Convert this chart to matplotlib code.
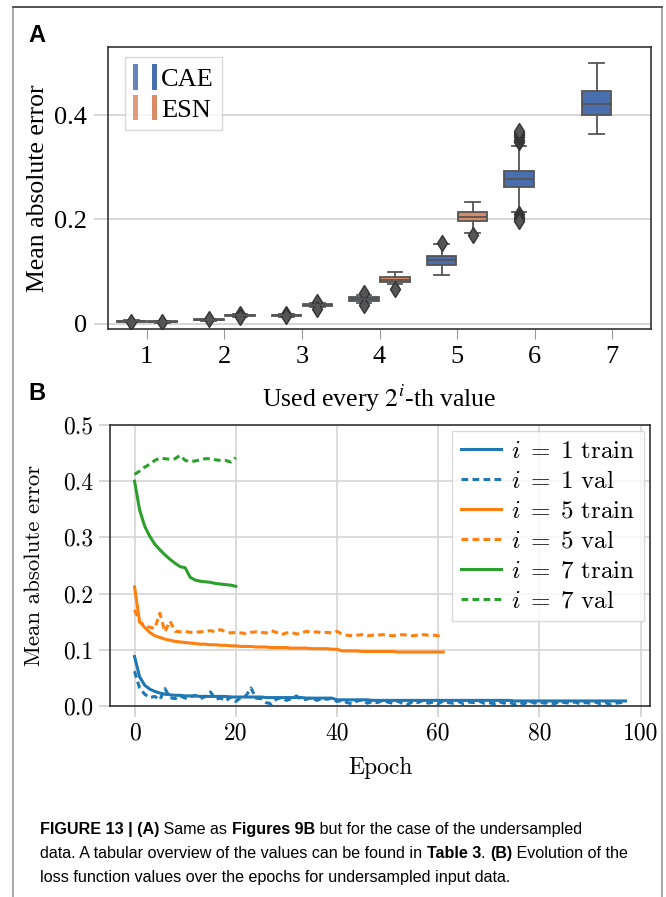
import matplotlib as mpl
import matplotlib.pyplot as plt
from matplotlib.patches import Patch, Rectangle
from matplotlib.legend_handler import HandlerTuple
from matplotlib.font_manager import FontProperties
import numpy as np

# ---------- panel A: box statistics per group (every 2^i-th value)
grupos = [1, 2, 3, 4, 5, 6, 7]

cae_whislo = [0.002, 0.005, 0.013, 0.040, 0.093, 0.213, 0.363]
cae_q1 = [0.003, 0.006, 0.015, 0.044, 0.112, 0.261, 0.401]
cae_med = [0.004, 0.007, 0.016, 0.047, 0.121, 0.278, 0.421]
cae_q3 = [0.005, 0.008, 0.017, 0.051, 0.130, 0.293, 0.446]
cae_whishi = [0.006, 0.009, 0.019, 0.055, 0.153, 0.341, 0.499]
cae_fliers = [[0.003], [0.008], [0.018, 0.014], [0.058, 0.035], [0.155],
              [0.348, 0.353, 0.358, 0.362, 0.366, 0.370, 0.210, 0.205, 0.200, 0.197], []]

esn_grupos = [1, 2, 3, 4, 5]
esn_whislo = [0.001, 0.013, 0.031, 0.075, 0.174]
esn_q1 = [0.002, 0.015, 0.034, 0.079, 0.197]
esn_med = [0.003, 0.016, 0.035, 0.084, 0.205]
esn_q3 = [0.004, 0.017, 0.037, 0.089, 0.213]
esn_whishi = [0.005, 0.019, 0.040, 0.0995, 0.233]
esn_fliers = [[0.003], [0.019, 0.013], [0.042, 0.028], [0.066], [0.169]]

# ---------- panel B: loss per epoch
i1_train = [0.088, 0.052, 0.037, 0.030, 0.026, 0.023, 0.021, 0.020, 0.019, 0.019,
            0.018, 0.018, 0.018, 0.017, 0.017, 0.017, 0.017, 0.017, 0.017, 0.016,
            0.016, 0.016, 0.016, 0.016, 0.016, 0.016, 0.015, 0.015, 0.015, 0.015,
            0.015, 0.015, 0.015, 0.015, 0.014, 0.014, 0.014, 0.014, 0.014, 0.014,
            0.011, 0.011, 0.011, 0.011, 0.011, 0.011, 0.011, 0.010, 0.010, 0.010,
            0.010, 0.010, 0.010, 0.010, 0.010, 0.010, 0.010, 0.010, 0.010, 0.010,
            0.010, 0.010, 0.010, 0.010, 0.010, 0.010, 0.010, 0.010, 0.010, 0.010,
            0.010, 0.010, 0.010, 0.010, 0.010, 0.009, 0.009, 0.009, 0.009, 0.009,
            0.009, 0.009, 0.009, 0.009, 0.009, 0.009, 0.009, 0.009, 0.009, 0.009,
            0.009, 0.009, 0.009, 0.009, 0.009, 0.009, 0.009, 0.009]
i1_val = [0.062, 0.032, 0.021, 0.015, 0.017, 0.011, 0.031, 0.015, 0.013, 0.018,
          0.014, 0.016, 0.019, 0.013, 0.017, 0.025, 0.012, 0.014, 0.009, 0.016,
          0.008, 0.015, 0.018, 0.032, 0.014, 0.013, 0.006, 0.004, 0.012, 0.015,
          0.010, 0.013, 0.018, 0.011, 0.012, 0.015, 0.010, 0.013, 0.012, 0.014,
          0.008, 0.010, 0.006, 0.004, 0.009, 0.011, 0.005, 0.008, 0.006, 0.010,
          0.007, 0.005, 0.009, 0.004, 0.003, 0.008, 0.006, 0.010, 0.005, 0.007,
          0.004, 0.009, 0.006, 0.005, 0.008, 0.004, 0.007, 0.006, 0.009, 0.005,
          0.006, 0.004, 0.008, 0.005, 0.007, 0.003, 0.006, 0.004, 0.009, 0.005,
          0.007, 0.005, 0.006, 0.004, 0.008, 0.006, 0.005, 0.007, 0.004, 0.006,
          0.005, 0.007, 0.004, 0.006, 0.003, 0.005, 0.006, 0.007]
i5_train = [0.212, 0.150, 0.140, 0.131, 0.125, 0.122, 0.119, 0.117, 0.115, 0.114,
            0.113, 0.112, 0.111, 0.110, 0.110, 0.109, 0.109, 0.108, 0.108, 0.107,
            0.107, 0.106, 0.106, 0.106, 0.105, 0.105, 0.105, 0.104, 0.104, 0.104,
            0.104, 0.103, 0.103, 0.103, 0.103, 0.102, 0.102, 0.102, 0.102, 0.101,
            0.101, 0.098, 0.098, 0.098, 0.098, 0.097, 0.097, 0.097, 0.097, 0.097,
            0.097, 0.097, 0.096, 0.096, 0.096, 0.096, 0.096, 0.096, 0.096, 0.096,
            0.096, 0.096]
i5_val = [0.171, 0.150, 0.143, 0.140, 0.138, 0.165, 0.132, 0.151, 0.133, 0.132,
          0.133, 0.131, 0.131, 0.132, 0.133, 0.134, 0.132, 0.136, 0.132, 0.130,
          0.131, 0.130, 0.129, 0.131, 0.132, 0.131, 0.130, 0.134, 0.131, 0.127,
          0.130, 0.131, 0.128, 0.130, 0.133, 0.131, 0.132, 0.130, 0.131, 0.130,
          0.133, 0.128, 0.126, 0.125, 0.126, 0.127, 0.125, 0.126, 0.126, 0.127,
          0.126, 0.125, 0.126, 0.127, 0.126, 0.125, 0.126, 0.127, 0.126, 0.126,
          0.125, 0.127]
i7_train = [0.400, 0.349, 0.320, 0.302, 0.288, 0.278, 0.269, 0.261, 0.254, 0.248,
            0.246, 0.229, 0.224, 0.222, 0.221, 0.220, 0.218, 0.217, 0.216, 0.215,
            0.213]
i7_val = [0.412, 0.418, 0.425, 0.430, 0.437, 0.441, 0.440, 0.439, 0.440, 0.446,
          0.437, 0.435, 0.436, 0.438, 0.440, 0.440, 0.438, 0.437, 0.437, 0.434,
          0.442]

col_cae = '#4a6fae'
col_esn = '#d98a66'
gris = '#555555'
serif_a = 'Liberation Serif'
cm = 'cmr10'

fig = plt.figure(figsize=(6.66, 8.97), dpi=100)

# marco exterior de la figura
fig.patches.append(Rectangle((13 / 666, -0.01), 649 / 666, 1 - 7 / 897 + 0.01,
                             transform=fig.transFigure, fill=False,
                             edgecolor='#9a9a9a', lw=1.2))
fig.lines.append(mpl.lines.Line2D([13 / 666, 662 / 666], [1 - 7 / 897] * 2,
                                  transform=fig.transFigure, color='#444444', lw=1.2))

# ================= panel A
axA = fig.add_axes([108 / 666, 1 - 329 / 897, 543 / 666, 282 / 897])


def stats(wl, q1, md, q3, wh, fl):
    return [dict(whislo=a, q1=b, med=c, q3=d, whishi=e, fliers=f)
            for a, b, c, d, e, f in zip(wl, q1, md, q3, wh, fl)]


bx_kw = dict(widths=0.38, capwidths=0.19, patch_artist=True, manage_ticks=False,
             boxprops=dict(edgecolor=gris, lw=1.3),
             medianprops=dict(color=gris, lw=1.3),
             whiskerprops=dict(color=gris, lw=1.3),
             capprops=dict(color=gris, lw=1.3),
             flierprops=dict(marker='d', markerfacecolor=gris, markeredgecolor='#333333',
                             markersize=8))
b1 = axA.bxp(stats(cae_whislo, cae_q1, cae_med, cae_q3, cae_whishi, cae_fliers),
             positions=np.array(grupos) - 0.2, **bx_kw)
b2 = axA.bxp(stats(esn_whislo, esn_q1, esn_med, esn_q3, esn_whishi, esn_fliers),
             positions=np.array(esn_grupos) + 0.2, **bx_kw)
for p in b1['boxes']:
    p.set_facecolor(col_cae)
for p in b2['boxes']:
    p.set_facecolor(col_esn)

axA.set_xlim(0.5, 7.5)
axA.set_ylim(-0.0105, 0.5305)
axA.set_xticks(grupos)
axA.set_xticklabels([str(g) for g in grupos], fontfamily=serif_a, fontsize=19)
axA.set_yticks([0, 0.2, 0.4])
axA.set_yticklabels(['0', '0.2', '0.4'], fontfamily=serif_a, fontsize=19)
axA.yaxis.grid(True, color='#d0d0d0', lw=1.2)
axA.set_axisbelow(True)
axA.tick_params(axis='x', length=7, color='#999999', pad=5)
axA.tick_params(axis='y', length=10, color='#d0d0d0', width=1.2, pad=5)
for s in axA.spines.values():
    s.set_color('#333333')
    s.set_linewidth(1.2)
axA.set_ylabel('Mean absolute error', fontfamily=serif_a, fontsize=18.5)
axA.yaxis.set_label_coords(-0.108, 0.5)
axA.set_xlabel('Used every $2^i$-th value', fontfamily=serif_a, fontsize=18.5,
               math_fontfamily='stix')
axA.xaxis.set_label_coords(0.5, -0.19)

hA = [(Patch(facecolor=col_cae, alpha=0.85), Patch(facecolor=col_cae)),
      (Patch(facecolor=col_esn, alpha=0.85), Patch(facecolor=col_esn))]
legA = axA.legend(hA, ['CAE', 'ESN'], loc='upper left', bbox_to_anchor=(0.022, 0.985),
                  handler_map={tuple: HandlerTuple(ndivide=None, pad=0.5)},
                  prop=FontProperties(family=serif_a, size=19), handlelength=0.9,
                  handleheight=1.1, handletextpad=0.15, borderpad=0.3,
                  labelspacing=0.15, fancybox=False, borderaxespad=0.2)
legA.get_frame().set_edgecolor('#d0d0d0')
legA.get_frame().set_linewidth(1.0)

fig.text(37 / 666, 1 - 35 / 897, 'A', fontfamily='Liberation Sans', fontweight='bold',
         fontsize=17, ha='center', va='center')

# ================= panel B
axB = fig.add_axes([110 / 666, 1 - 706 / 897, 540 / 666, 281 / 897])
lw = 2.2
axB.plot(np.arange(len(i1_train)), i1_train, color='#1f77b4', lw=lw, label=r'$i\;=\;1$ train')
axB.plot(np.arange(len(i1_val)), i1_val, color='#1f77b4', lw=lw, ls='--', dashes=(2.2, 1.4),
         label=r'$i\;=\;1$ val')
axB.plot(np.arange(len(i5_train)), i5_train, color='#ff7f0e', lw=lw, label=r'$i\;=\;5$ train')
axB.plot(np.arange(len(i5_val)), i5_val, color='#ff7f0e', lw=lw, ls='--', dashes=(2.2, 1.4),
         label=r'$i\;=\;5$ val')
axB.plot(np.arange(len(i7_train)), i7_train, color='#2ca02c', lw=lw, label=r'$i\;=\;7$ train')
axB.plot(np.arange(len(i7_val)), i7_val, color='#2ca02c', lw=lw, ls='--', dashes=(2.2, 1.4),
         label=r'$i\;=\;7$ val')

axB.set_xlim(-4.85, 101.85)
axB.set_ylim(0, 0.5)
axB.set_xticks([0, 20, 40, 60, 80, 100])
axB.set_xticklabels(['0', '20', '40', '60', '80', '100'], fontfamily=cm, fontsize=17)
axB.set_yticks([0, 0.1, 0.2, 0.3, 0.4, 0.5])
axB.set_yticklabels(['0.0', '0.1', '0.2', '0.3', '0.4', '0.5'], fontfamily=cm, fontsize=17)
axB.grid(True, color='#d5d5d5', lw=1.2)
axB.set_axisbelow(True)
axB.tick_params(length=8, color='#d0d0d0', width=1.2, pad=4)
for s in axB.spines.values():
    s.set_color('#333333')
    s.set_linewidth(1.2)
axB.set_ylabel('Mean absolute error', fontfamily=cm, fontsize=16.5)
axB.yaxis.set_label_coords(-0.122, 0.5)
axB.set_xlabel('Epoch', fontfamily=cm, fontsize=17)
axB.xaxis.set_label_coords(0.5, -0.18)

legB = axB.legend(loc='upper right', prop=FontProperties(family=cm, size=18, math_fontfamily='cm'),
                  handlelength=1.6, handletextpad=0.4, labelspacing=0.3, borderpad=0.35,
                  fancybox=False, borderaxespad=0.25)
legB.get_frame().set_edgecolor('#d0d0d0')
legB.get_frame().set_linewidth(1.0)

fig.text(37 / 666, 1 - 393 / 897, 'B', fontfamily='Liberation Sans', fontweight='bold',
         fontsize=17, ha='center', va='center')

# ================= pie de figura (texto con partes en negrita)
cap_font = ['Liberation Sans']
lineas = [
    [('FIGURE 13 | (A)', True), (' Same as ', False), ('Figures 9B', True),
     (' but for the case of the undersampled', False)],
    [('data. A tabular overview of the values can be found in ', False), ('Table 3', True),
     ('. ', False), ('(B)', True), (' Evolution of the', False)],
    [('loss function values over the epochs for undersampled input data.', False)],
]
renderer = fig.canvas.get_renderer()
y_px = [829, 853, 877]
for linea, yp in zip(lineas, y_px):
    x = 40 / 666
    for txt, negrita in linea:
        t = fig.text(x, 1 - yp / 897, txt, fontfamily=cap_font, fontsize=11.6,
                     fontweight='bold' if negrita else 'normal', va='center', ha='left')
        bb = t.get_window_extent(renderer)
        x += bb.width / fig.bbox.width

fig.savefig('out.png', dpi=100)
